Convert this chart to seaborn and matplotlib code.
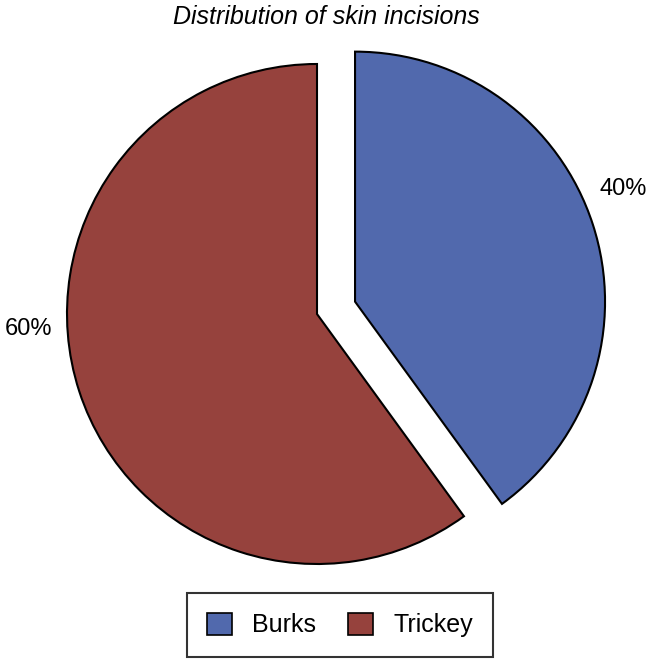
import matplotlib
matplotlib.use("Agg")
import matplotlib.pyplot as plt
import seaborn as sns

categories = ["Burks", "Trickey"]
values = [40, 60]
pct_labels = ["40%", "60%"]
colors = ["#5169AD", "#96423D"]

sns.set_theme(style="white")
plt.rcParams['font.family'] = ['Liberation Sans', 'DejaVu Sans']
plt.rcParams['text.color'] = 'black'

fig = plt.figure(figsize=(6.53, 6.59), dpi=100)
ax = fig.add_axes([0, 80/659, 1, 550/659])
wedges, _ = ax.pie(values, colors=colors, startangle=90, counterclock=False,
                   explode=[0.16, 0.0],
                   wedgeprops=dict(edgecolor="black", linewidth=1.5))
ax.set_xlim(-317/250, 336/250)
ax.set_ylim(-265/250, 285/250)
ax.set_aspect('auto')

label_pos = [(1.224, 0.50), (-1.156, -0.06)]
for (x, y), t in zip(label_pos, pct_labels):
    ax.text(x, y, t, ha="center", va="center", fontsize=17, color="black")

fig.text(0.5, 1 - 17/659, "Distribution of skin incisions", ha="center", va="center",
         fontsize=18, fontstyle="italic", color="black")

leg = fig.legend(wedges, categories, loc="center", bbox_to_anchor=(340/653, 34/659),
                 ncol=2, fontsize=18, frameon=True, fancybox=False,
                 handlelength=1.0, handleheight=1.0, handletextpad=0.8,
                 columnspacing=1.3, borderpad=0.8, edgecolor="black",
                 labelcolor="black")
leg.get_frame().set_linewidth(1.5)
for h in leg.legend_handles:
    h.set_edgecolor("black")
    h.set_linewidth(1.2)

fig.savefig("out.png", dpi=100)
